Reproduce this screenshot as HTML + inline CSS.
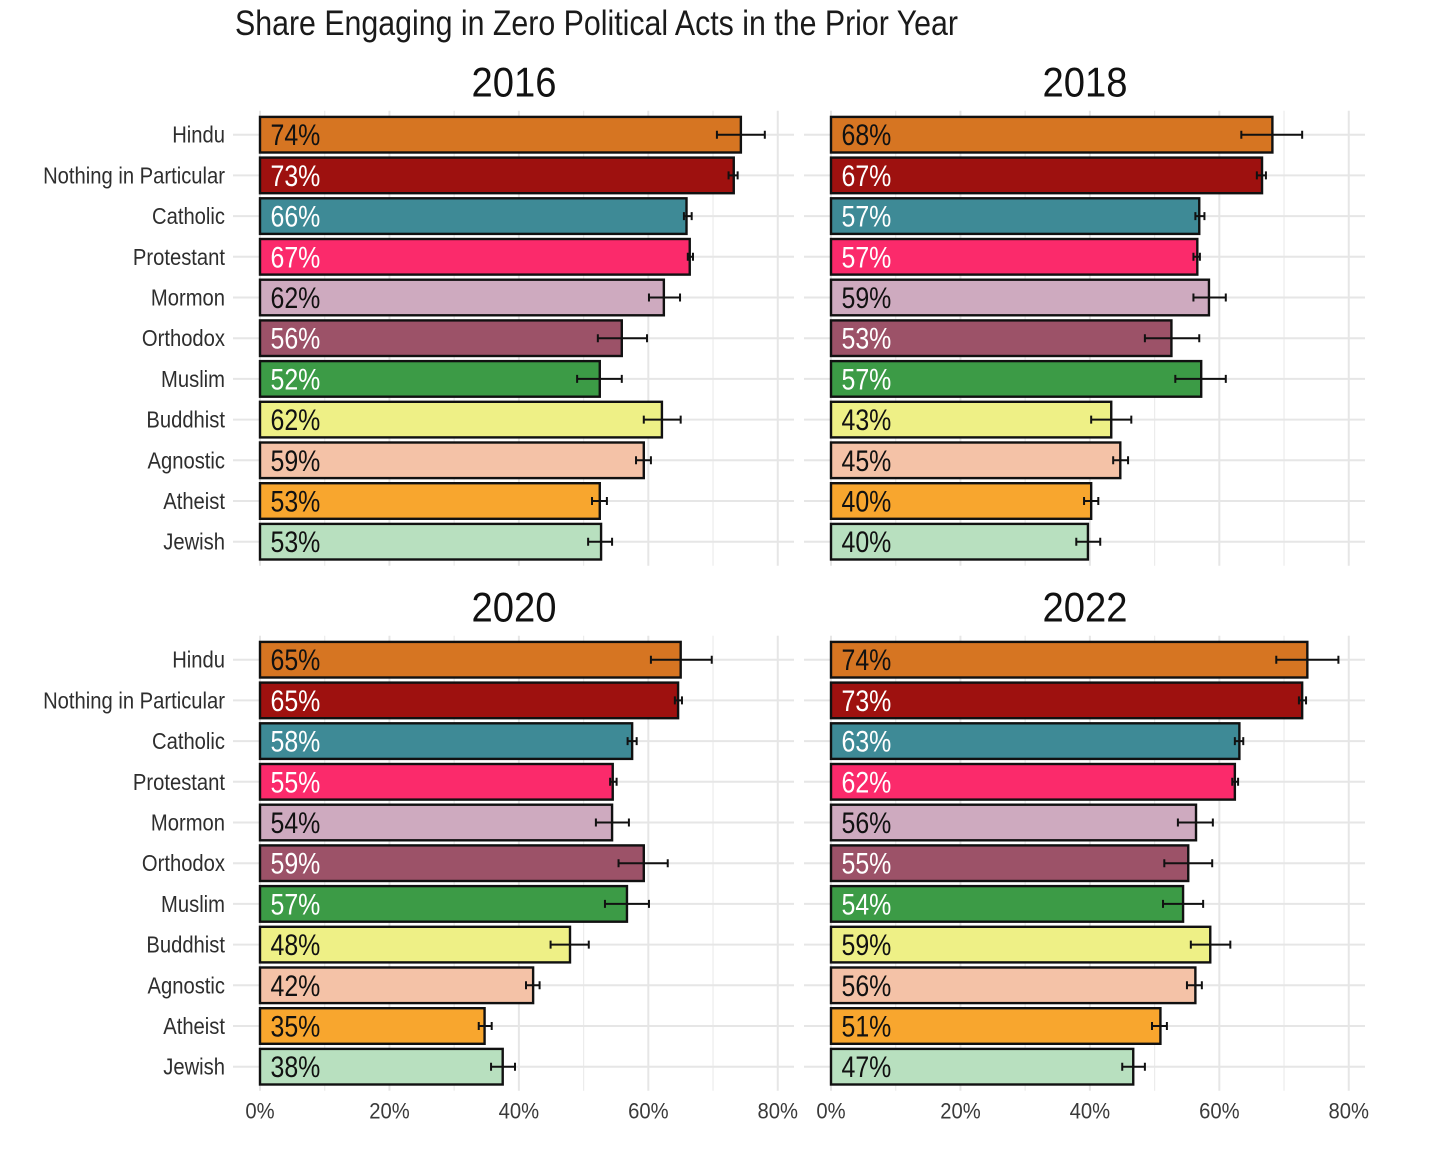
<!DOCTYPE html>
<html lang="en">
<head>
<meta charset="utf-8">
<title>Share Engaging in Zero Political Acts in the Prior Year</title>
<style>
html,body{margin:0;padding:0;background:#fff;width:1456px;height:1162px;overflow:hidden}
svg{display:block}
text{font-family:"Liberation Sans",sans-serif}
</style>
</head>
<body>
<svg id="chart" xmlns="http://www.w3.org/2000/svg" width="1456" height="1162" viewBox="0 0 1456 1162">
  <rect width="1456" height="1162" fill="#ffffff"/>
  <text x="235" y="35" font-size="35" fill="#1a1a1a" textLength="723" lengthAdjust="spacingAndGlyphs">Share Engaging in Zero Political Acts in the Prior Year</text>
</svg>
<script>
const categories = ["Hindu","Nothing in Particular","Catholic","Protestant","Mormon","Orthodox","Muslim","Buddhist","Agnostic","Atheist","Jewish"];
const barColors = ["#D67522","#9E110F","#3E8A96","#FB2A6B","#CEAABF","#9C5268","#3C9B46","#EEF086","#F4C2A7","#F8A62E","#B8E0BF"];
const labelColors = ["#111","#fff","#fff","#fff","#111","#fff","#fff","#111","#111","#111","#111"];
const years = ["2016","2018","2020","2022"];
const xTicks = [0,20,40,60,80];
const xMinorTicks = [10,30,50,70];

const values2016 = [74.3,73.2,65.9,66.4,62.4,55.9,52.5,62.1,59.3,52.5,52.7];
const low2016 = [70.6,72.4,65.5,66.1,60.1,52.2,49.0,59.3,58.1,51.3,50.7];
const high2016 = [78.0,73.8,66.7,66.9,64.9,59.8,55.9,65.0,60.4,53.6,54.4];
const printed2016 = ["74%","73%","66%","67%","62%","56%","52%","62%","59%","53%","53%"];

const values2018 = [68.2,66.6,56.9,56.6,58.4,52.6,57.2,43.3,44.7,40.2,39.7];
const low2018 = [63.4,65.8,56.3,56.0,56.0,48.5,53.2,40.2,43.6,39.1,37.9];
const high2018 = [72.8,67.2,57.7,57.0,61.0,56.9,61.0,46.4,45.9,41.3,41.6];
const printed2018 = ["68%","67%","57%","57%","59%","53%","57%","43%","45%","40%","40%"];

const values2020 = [65.0,64.6,57.5,54.5,54.4,59.3,56.7,47.9,42.2,34.7,37.5];
const low2020 = [60.4,64.1,56.8,54.1,51.9,55.4,53.3,44.9,41.1,33.8,35.7];
const high2020 = [69.8,65.2,58.2,55.1,57.0,63.0,60.1,50.8,43.2,35.8,39.4];
const printed2020 = ["65%","65%","58%","55%","54%","59%","57%","48%","42%","35%","38%"];

const values2022 = [73.6,72.8,63.1,62.4,56.4,55.2,54.4,58.6,56.3,50.9,46.7];
const low2022 = [68.8,72.3,62.4,62.0,53.6,51.5,51.3,55.6,55.0,49.6,45.0];
const high2022 = [78.4,73.4,63.7,62.9,59.0,58.9,57.5,61.7,57.3,51.9,48.5];
const printed2022 = ["74%","73%","63%","62%","56%","55%","54%","59%","56%","51%","47%"];

const seriesValues = [values2016,values2018,values2020,values2022];
const seriesLow = [low2016,low2018,low2020,low2022];
const seriesHigh = [high2016,high2018,high2020,high2022];
const seriesPrinted = [printed2016,printed2018,printed2020,printed2022];

const NS = "http://www.w3.org/2000/svg";
const svg = document.getElementById("chart");
const panelLefts = [260,831,260,831];
const panelTops = [134.7,134.7,659.7,659.7];
const PX_PER_PCT = 6.472;
const ROW_STEP = 40.7;
const BAR_H = 35.6;

function make(tag, attrs, parent){
  const el = document.createElementNS(NS, tag);
  for(const k in attrs){ el.setAttribute(k, attrs[k]); }
  parent.appendChild(el);
  return el;
}
function xScale(panel, v){ return panelLefts[panel] + v * PX_PER_PCT; }
function yScale(panel, i){ return panelTops[panel] + i * ROW_STEP; }
function squeezedText(parent, str, x, y, size, sx, anchor, fill){
  const t = make("text", {
    transform: "translate(" + x + "," + y + ") scale(" + sx + ",1)",
    "font-size": size, fill: fill, "text-anchor": anchor
  }, parent);
  t.textContent = str;
  return t;
}

years.forEach(function(year, p){
  const g = make("g", {}, svg);
  
  
  const left = panelLefts[p] - 27;
  const right = left + 561;
  const top = yScale(p, 0) - 24;
  const bottom = yScale(p, 10) + 24;

  xMinorTicks.forEach(function(v){
    const l = make("line", {x1:xScale(p,v), x2:xScale(p,v), y1:top, y2:bottom, stroke:"#ececec", "stroke-width":1.2}, g);
    
    
  });
  xTicks.forEach(function(v){
    const l = make("line", {x1:xScale(p,v), x2:xScale(p,v), y1:top, y2:bottom, stroke:"#e6e6e6", "stroke-width":2}, g);
    
    
  });
  categories.forEach(function(c, i){
    const l = make("line", {x1:left, x2:right, y1:yScale(p,i), y2:yScale(p,i), stroke:"#e6e6e6", "stroke-width":2}, g);
    
    
  });

  const pt = squeezedText(g, year, xScale(p,0) + 254, yScale(p,0) - 38, 42, 0.91, "middle", "#111");
  
  

  categories.forEach(function(c, i){
    const y = yScale(p, i);
    const rect = make("rect", {
      x: xScale(p,0), y: y - BAR_H/2,
      width: xScale(p, seriesValues[p][i]) - xScale(p,0), height: BAR_H,
      fill: barColors[i], stroke: "#111", "stroke-width": 2.4
    }, g);
    
    

    const xl = xScale(p, seriesLow[p][i]), xh = xScale(p, seriesHigh[p][i]);
    const eb = make("path", {
      d: "M" + xl + " " + y + "H" + xh + "M" + xl + " " + (y-4) + "V" + (y+4) + "M" + xh + " " + (y-4) + "V" + (y+4),
      stroke: "#111", "stroke-width": 2, fill: "none"
    }, g);
    
    

    const vl = squeezedText(g, seriesPrinted[p][i], xScale(p,0) + 10.5, y + 10.5, 30, 0.83, "start", labelColors[i]);
    
    

    if(p % 2 === 0){
      const cl = squeezedText(g, c, 225, y + 8, 23.5, 0.86, "end", "#2e2e2e");
      
      
    }
  });

  if(p >= 2){
    xTicks.forEach(function(v){
      const t = squeezedText(g, v + "%", xScale(p,v), yScale(p,10) + 52, 22, 0.92, "middle", "#3a3a3a");
      
      
    });
  }
});
</script>
</body>
</html>
